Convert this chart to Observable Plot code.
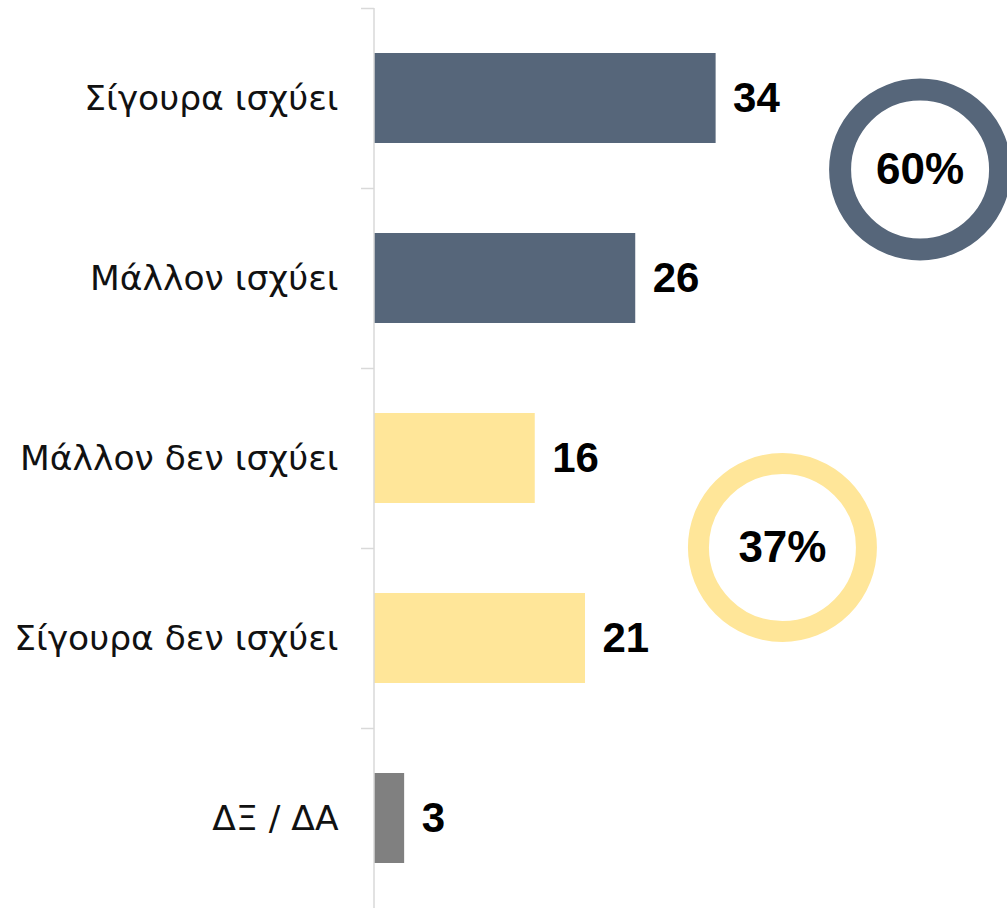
<!DOCTYPE html>
<html>
<head>
<meta charset="utf-8">
<script src="https://cdn.jsdelivr.net/npm/d3@7"></script>
<script src="https://cdn.jsdelivr.net/npm/@observablehq/plot@0.6"></script>
<style>
  html, body { margin: 0; padding: 0; background: #fff; }
  #chart svg { display: block; }
</style>
</head>
<body>
<div id="chart"></div>
<script>
const categories = ["Σίγουρα ισχύει", "Μάλλον ισχύει", "Μάλλον δεν ισχύει", "Σίγουρα δεν ισχύει", "ΔΞ / ΔΑ"];
const values = [34, 26, 16, 21, 3];
const groupOf = ["yes", "yes", "no", "no", "dk"];
const totalLabels = ["60%", "37%"];
const totalGroups = ["yes", "no"];

const colors = {yes: "#56667a", no: "#ffe699", dk: "#808080"};

const data = categories.map((c, i) => ({label: c, value: values[i], group: groupOf[i]}));
const totals = totalLabels.map((t, i) => ({text: t, group: totalGroups[i]}));

// annotation placement (layout only)
const ringPos = {yes: {x: 54.3, y: categories[0], dy: 71, r: 80, sw: 22},
                 no: {x: 40.6, y: categories[2], dy: 89, r: 84, sw: 21}};

const W = 1007, H = 908;
const numFont = "'Liberation Sans', Arial, sans-serif";

const chart = Plot.plot({
  width: W,
  height: H,
  marginLeft: 374,
  marginRight: 0,
  marginTop: 8,
  marginBottom: 0,
  style: {fontFamily: "'DejaVu Sans', sans-serif", background: "#fff"},
  x: {domain: [0, 63], axis: null},
  y: {domain: categories, paddingInner: 0.5, paddingOuter: 0.25, label: null, axis: null},
  marks: [
    Plot.axisY({tickSize: 0, tickPadding: 36, fontSize: 34.5, fill: "#111", label: null,
                fontFamily: "'DejaVu Sans', sans-serif"}),
    Plot.barX(data, {x: "value", y: "label", fill: d => colors[d.group]}),
    // band boundary ticks
    Plot.ruleY(categories, {y: d => d, dy: -90, insetRight: W - 374 - 13, dx: -13, stroke: "#d9d9d9", strokeWidth: 1.5}),
    Plot.ruleX([0], {stroke: "#d9d9d9", strokeWidth: 1.5, dx: -0.5}),
    Plot.text(data, {x: "value", y: "label", text: d => String(d.value), textAnchor: "start", dx: 17,
                     fontSize: 42, fontWeight: "bold", fill: "#000", fontFamily: numFont}),
    ...totals.map(t => Plot.dot([t], {x: () => ringPos[t.group].x, y: () => ringPos[t.group].y,
                      dy: ringPos[t.group].dy, r: ringPos[t.group].r, fill: "#fff",
                      stroke: colors[t.group], strokeWidth: ringPos[t.group].sw})),
    ...totals.map(t => Plot.text([t], {x: () => ringPos[t.group].x, y: () => ringPos[t.group].y,
                      dy: ringPos[t.group].dy, text: "text", fontSize: 44, fontWeight: "bold",
                      fill: "#000", fontFamily: numFont}))
  ]
});
document.getElementById("chart").appendChild(chart);
</script>
</body>
</html>
